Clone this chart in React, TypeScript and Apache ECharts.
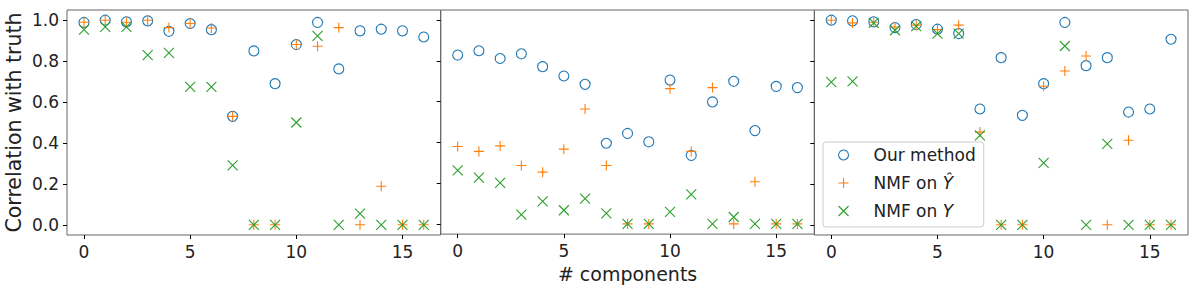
import React, { useEffect, useRef } from "react";
import * as echarts from "echarts";

const components = [0, 1, 2, 3, 4, 5, 6, 7, 8, 9, 10, 11, 12, 13, 14, 15, 16];
const yTicks = [0, 0.2, 0.4, 0.6, 0.8, 1.0];
const xTicks = [0, 5, 10, 15];
const seriesNames = ["Our method", "NMF on Ŷ", "NMF on Y"];

// Panel 1
const p1Ours = [0.989, 1.0, 0.992, 0.997, 0.946, 0.984, 0.954, 0.53, 0.85, 0.69, 0.881, 0.989, 0.762, 0.948, 0.956, 0.948, 0.918];
const p1NmfHat = [0.99, 1.0, 0.99, 1.0, 0.964, 0.984, 0.962, 0.53, 0.0, 0.0, 0.881, 0.873, 0.964, 0.0, 0.188, 0.0, 0.0];
const p1NmfY = [0.954, 0.967, 0.967, 0.829, 0.84, 0.674, 0.674, 0.29, 0.0, 0.0, 0.5, 0.923, 0.0, 0.054, 0.0, 0.0, 0.0];

// Panel 2
const p2Ours = [0.829, 0.85, 0.812, 0.835, 0.772, 0.726, 0.685, 0.396, 0.444, 0.403, 0.706, 0.336, 0.599, 0.7, 0.458, 0.675, 0.669];
const p2NmfHat = [0.38, 0.356, 0.383, 0.287, 0.254, 0.367, 0.564, 0.287, 0.0, 0.0, 0.664, 0.356, 0.669, 0.0, 0.207, 0.0, 0.0];
const p2NmfY = [0.263, 0.227, 0.201, 0.046, 0.111, 0.067, 0.124, 0.052, 0.0, 0.0, 0.059, 0.145, 0.0, 0.034, 0.0, 0.0, 0.0];

// Panel 3
const p3Ours = [1.0, 0.997, 0.992, 0.964, 0.979, 0.956, 0.935, 0.566, 0.817, 0.535, 0.69, 0.989, 0.778, 0.817, 0.551, 0.566, 0.907];
const p3NmfHat = [1.0, 0.987, 0.99, 0.967, 0.976, 0.954, 0.976, 0.453, 0.0, 0.0, 0.677, 0.752, 0.825, 0.0, 0.413, 0.0, 0.0];
const p3NmfY = [0.697, 0.701, 0.987, 0.951, 0.971, 0.935, 0.935, 0.437, 0.0, 0.0, 0.303, 0.874, 0.0, 0.396, 0.0, 0.0, 0.0];

const panels = [
  [p1Ours, p1NmfHat, p1NmfY],
  [p2Ours, p2NmfHat, p2NmfY],
  [p3Ours, p3NmfHat, p3NmfY],
];

const COLORS = ["#1f77b4", "#ff7f0e", "#2ca02c"];
const SYMBOLS = [
  "circle",
  "path://M0,5L10,5M5,0L5,10",
  "path://M0,0L10,10M0,10L10,0",
];
const SIZES = [10, 10, 10];
const FONT = "DejaVu Sans";
const TEXT = "#222";

export default function App() {
  const ref = useRef<HTMLDivElement>(null);

  useEffect(() => {
    if (!ref.current) return;
    const chart = echarts.init(ref.current, undefined, { renderer: "svg" });

    const gridLefts = [67, 440.7, 814.3];
    const gridW = 373.7;

    const grids = gridLefts.map((l) => ({
      left: l,
      top: 10,
      width: gridW,
      height: 225,
      show: true,
      borderColor: "#666",
      borderWidth: 1,
      backgroundColor: "transparent",
    }));

    const xAxes = gridLefts.map((_, i) => ({
      type: "value",
      gridIndex: i,
      min: -0.8,
      max: 16.8,
      splitLine: { show: false },
      axisLine: { show: false, onZero: false },
      axisTick: {
        show: true,
        length: 4,
        inside: false,
        customValues: xTicks,
        lineStyle: { color: "#000", width: 1 },
      },
      axisLabel: {
        show: true,
        customValues: xTicks,
        margin: 8,
        fontFamily: FONT,
        fontSize: 17,
        color: TEXT,
      },
      name: i === 1 ? "# components" : "",
      nameLocation: "middle",
      nameGap: 27,
      nameTextStyle: { fontFamily: FONT, fontSize: 19, color: TEXT },
    }));

    const yAxes = gridLefts.map((_, i) => ({
      type: "value",
      gridIndex: i,
      min: -0.05,
      max: 1.05,
      splitLine: { show: false },
      axisLine: { show: false, onZero: false },
      axisTick: {
        show: true,
        length: 4,
        inside: false,
        customValues: yTicks,
        lineStyle: { color: "#000", width: 1 },
      },
      axisLabel: {
        show: i === 0,
        customValues: yTicks,
        margin: 8,
        fontFamily: FONT,
        fontSize: 17,
        color: TEXT,
        formatter: (v: number) => v.toFixed(1),
      },
      name: i === 0 ? "Correlation with truth" : "",
      nameLocation: "middle",
      nameGap: 43,
      nameRotate: 90,
      nameTextStyle: { fontFamily: FONT, fontSize: 20.5, color: TEXT },
    }));

    const series: any[] = [];
    panels.forEach((panel, pi) => {
      panel.forEach((vals, si) => {
        series.push({
          type: "scatter",
          name: seriesNames[si],
          xAxisIndex: pi,
          yAxisIndex: pi,
          symbol: SYMBOLS[si],
          symbolSize: SIZES[si],
          data: components.map((c, k) => [c, vals[k]]),
          itemStyle: {
            color: "transparent",
            borderColor: COLORS[si],
            borderWidth: 1.1,
            opacity: 1,
          },
          emphasis: { disabled: true },
          z: 2 + si,
        });
      });
    });

    chart.setOption({
      animation: false,
      textStyle: { fontFamily: FONT },
      grid: grids,
      xAxis: xAxes,
      yAxis: yAxes,
      legend: {
        show: true,
        left: 823,
        top: 142,
        orient: "vertical",
        data: seriesNames,
        itemWidth: 30,
        itemHeight: 10,
        itemGap: 8,
        padding: [3, 8, 6, 15],
        borderColor: "#ccc",
        borderWidth: 1,
        borderRadius: 3,
        backgroundColor: "rgba(255,255,255,0.85)",
        selectedMode: false,
        symbolKeepAspect: true,
        itemStyle: { borderWidth: 1.1 },
        formatter: (name: string) => {
          if (name === "NMF on Ŷ") return "NMF on {i|Ŷ}";
          if (name === "NMF on Y") return "NMF on {i|Y}";
          return name;
        },
        textStyle: {
          fontFamily: FONT,
          fontSize: 17,
          color: TEXT,
          lineHeight: 20,
          padding: [0, 0, 0, 10],
          rich: {
            i: { fontFamily: FONT, fontSize: 17, fontStyle: "italic", color: TEXT, lineHeight: 20 },
          },
        },
        z: 10,
      },
      series,
    });

    return () => chart.dispose();
  }, []);

  return <div ref={ref} style={{ width: 1196, height: 288, position: "absolute", left: 0, top: 0 }} />;
}
